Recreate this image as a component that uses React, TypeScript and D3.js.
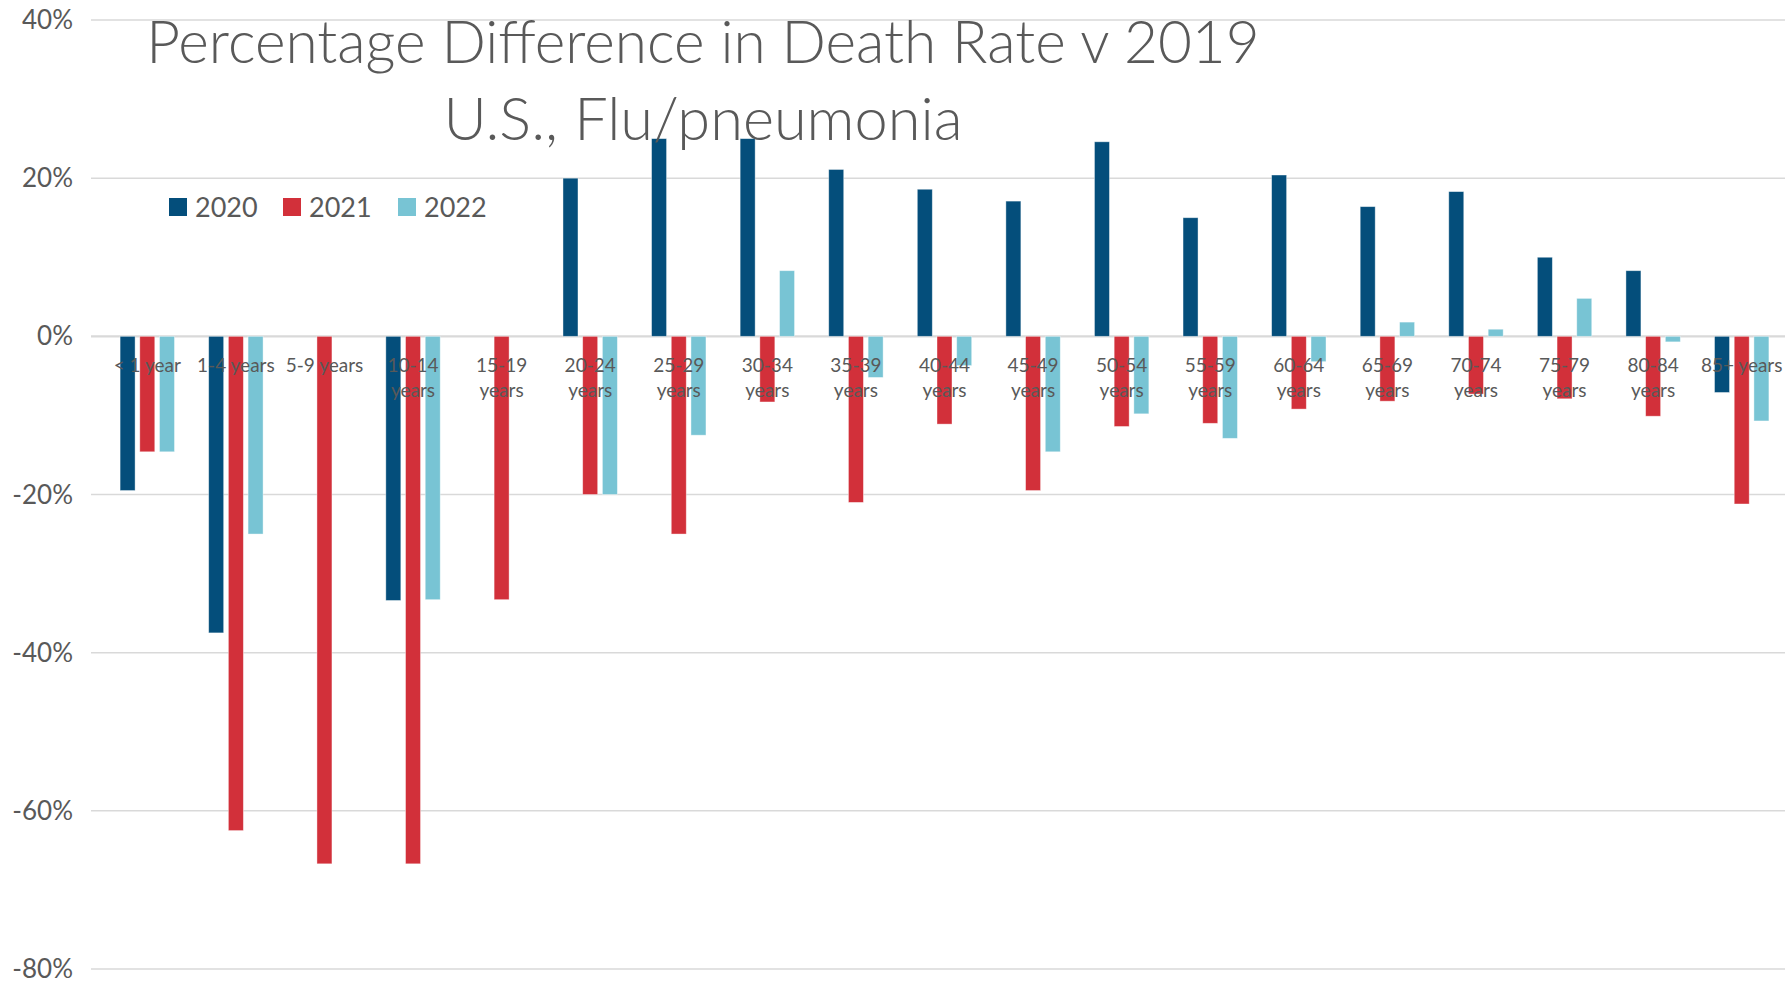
import * as d3 from 'd3';
import React from 'react';

const categories = [
  '< 1 year', '1-4 years', '5-9 years', '10-14 years', '15-19 years', '20-24 years',
  '25-29 years', '30-34 years', '35-39 years', '40-44 years', '45-49 years', '50-54 years',
  '55-59 years', '60-64 years', '65-69 years', '70-74 years', '75-79 years', '80-84 years',
  '85+ years',
];

const values2020 = [
  -0.195, -0.375, null, -0.334, null, 0.2, 0.25, 0.25, 0.211, 0.186, 0.171, 0.246,
  0.15, 0.204, 0.164, 0.183, 0.1, 0.083, -0.071,
];
const values2021 = [
  -0.146, -0.625, -0.667, -0.667, -0.333, -0.2, -0.25, -0.083, -0.21, -0.111, -0.195, -0.114,
  -0.11, -0.092, -0.082, -0.073, -0.079, -0.101, -0.212,
];
const values2022 = [
  -0.146, -0.25, null, -0.333, null, -0.2, -0.125, 0.083, -0.052, -0.037, -0.146, -0.098,
  -0.129, -0.032, 0.018, 0.009, 0.048, -0.007, -0.107,
];

const seriesNames = ['2020', '2021', '2022'];
const seriesColors = ['#044E7B', '#D2303A', '#78C4D4'];
const yTicks = [0.4, 0.2, 0, -0.2, -0.4, -0.6, -0.8];

const WIDTH = 1785;
const HEIGHT = 984;
const FONT = 'Lato, "Open Sans", sans-serif';
const TEXT = '#595959';

export default function App() {
  const series = [values2020, values2021, values2022];

  const y = d3.scaleLinear().domain([-0.8, 0.4]).range([969, 20]);
  const x = d3.scaleBand<string>().domain(categories).range([103, 1786]);
  const x1 = d3
    .scaleBand<string>()
    .domain(seriesNames)
    .range([-27.2, 27.2])
    .paddingInner(0.2386);
  // excel uses a plain hyphen, not d3's unicode minus
  const fmt = (t: number) => d3.format('.0%')(t).replace('\u2212', '-');

  return (
    <div style={{ position: 'absolute', left: 0, top: 0 }}>
      <svg width={WIDTH} height={HEIGHT} style={{ display: 'block', background: '#fff' }}>
        {/* grid */}
        {yTicks.map((t) => (
          <g key={t}>
            <line
              x1={91}
              x2={WIDTH}
              y1={y(t)}
              y2={y(t)}
              stroke="#D9D9D9"
              strokeWidth={t === 0 ? 2.2 : 1.5}
            />
            <text
              x={73}
              y={y(t) + 9}
              textAnchor="end"
              fontFamily={FONT}
              fontSize={26}
              fill={TEXT}
            >
              {fmt(t)}
            </text>
          </g>
        ))}

        {/* bars */}
        {series.map((vals, si) =>
          vals.map((v, i) => {
            if (v === null) return null;
            const cx = (x(categories[i]) as number) + x.bandwidth() / 2;
            const bx = cx + (x1(seriesNames[si]) as number);
            const y0 = y(0);
            const yv = y(v);
            return (
              <rect
                key={`${si}-${i}`}
                x={bx}
                y={Math.min(y0, yv)}
                width={x1.bandwidth()}
                height={Math.abs(yv - y0)}
                fill={seriesColors[si]}
                stroke="#ffffff"
                strokeOpacity={0.5}
                strokeWidth={0.8}
              />
            );
          })
        )}

        {/* category labels */}
        {categories.map((c) => {
          const cx = (x(c) as number) + x.bandwidth() / 2;
          const lines = c.length > 9 ? c.split(' ') : [c];
          return (
            <text
              key={c}
              x={cx}
              y={372}
              textAnchor="middle"
              fontFamily={FONT}
              fontSize={19}
              fill={TEXT}
            >
              {lines.map((l, k) => (
                <tspan key={k} x={cx} dy={k === 0 ? 0 : 25}>
                  {l}
                </tspan>
              ))}
            </text>
          );
        })}

        {/* legend */}
        {seriesNames.map((s, i) => {
          const lx = [169, 283, 398][i];
          return (
            <g key={s}>
              <rect x={lx} y={198} width={18} height={18} fill={seriesColors[i]} />
              <text x={lx + 26} y={217} fontFamily={FONT} fontSize={27} fill={TEXT}>
                {s}
              </text>
            </g>
          );
        })}

        {/* title */}
        <text
          x={703}
          y={63}
          textAnchor="middle"
          fontFamily={FONT}
          fontWeight={300}
          fontSize={58.5}
          fill={TEXT}
        >
          Percentage Difference in Death Rate v 2019
        </text>
        <text
          x={703}
          y={140}
          textAnchor="middle"
          fontFamily={FONT}
          fontWeight={300}
          fontSize={59.5}
          fill={TEXT}
        >
          U.S., Flu/pneumonia
        </text>
      </svg>
    </div>
  );
}
